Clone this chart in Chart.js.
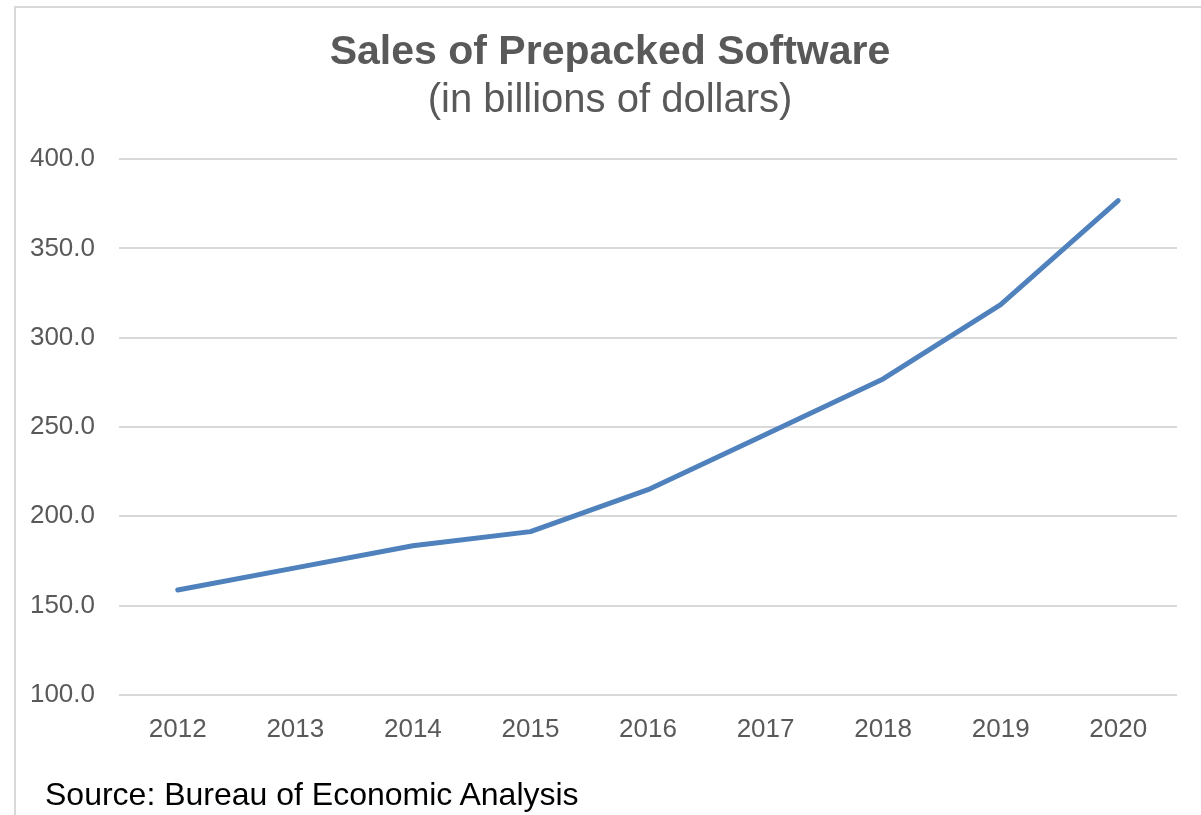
<!DOCTYPE html>
<html>
<head>
<meta charset="utf-8">
<script src="https://cdn.jsdelivr.net/npm/chart.js@4"></script>
<style>
    html, body { margin: 0; padding: 0; background: #fff; }
    body { width: 1201px; height: 815px; position: relative; overflow: hidden; font-family: "Liberation Sans", Arial, sans-serif; }
    .frame { position: absolute; left: 14px; top: 6px; width: 1300px; height: 900px; border-top: 2px solid #d9d9d9; border-left: 2px solid #d9d9d9; }
    .box { position: absolute; left: 0; top: 0; width: 1220px; height: 815px; }
    .source { position: absolute; left: 45px; top: 776px; font-size: 32px; line-height: 37px; color: #000; white-space: nowrap; }
</style>
</head>
<body>
<div class="frame"></div>
<div class="box"><canvas id="myChart"></canvas></div>
<div class="source">Source: Bureau of Economic Analysis</div>
<script>
const years = ['2012', '2013', '2014', '2015', '2016', '2017', '2018', '2019', '2020'];
const sales = [158.7, 171.1, 183.5, 191.4, 214.9, 245.8, 276.9, 318.5, 376.8];

const ctx = document.getElementById('myChart').getContext('2d');
const gray = '#595959';
const font = '"Liberation Sans", Arial, sans-serif';

new Chart(ctx, {
    type: 'line',
    data: {
        labels: years,
        datasets: [{
            data: sales,
            borderColor: '#4f81bd',
            borderWidth: 5,
            borderCapStyle: 'round',
            borderJoinStyle: 'round',
            pointRadius: 0,
            tension: 0,
            fill: false
        }]
    },
    options: {
        responsive: true,
        maintainAspectRatio: false,
        animation: false,
        layout: {
            padding: { left: 0, right: 0, top: 0, bottom: 51 }
        },
        plugins: {
            legend: { display: false },
            tooltip: { enabled: false },
            title: {
                display: true,
                text: 'Sales of Prepacked Software',
                color: gray,
                font: { family: font, size: 41, weight: 'bold' },
                padding: { top: 28, bottom: 0 }
            },
            subtitle: {
                display: true,
                text: '(in billions of dollars)',
                color: gray,
                font: { family: font, size: 40 },
                padding: { top: 0, bottom: 34 }
            }
        },
        scales: {
            x: {
                offset: true,
                grid: { display: false, drawTicks: false },
                border: { display: false },
                ticks: { color: gray, font: { family: font, size: 26 }, padding: 19 }
            },
            y: {
                min: 100,
                max: 400,
                afterFit: scale => { scale.width = 119; },
                grid: { color: '#d9d9d9', lineWidth: 2, drawTicks: false },
                border: { display: false },
                ticks: {
                    stepSize: 50,
                    color: gray,
                    font: { family: font, size: 26 },
                    padding: 24,
                    callback: v => v.toFixed(1)
                }
            },
            // empty spacer on the right so the titles sit where the original has them
            spacer: {
                type: 'linear',
                position: 'right',
                afterFit: scale => { scale.width = 43; },
                grid: { display: false, drawTicks: false },
                border: { display: false },
                ticks: { display: false }
            }
        }
    }
});
</script>
</body>
</html>
